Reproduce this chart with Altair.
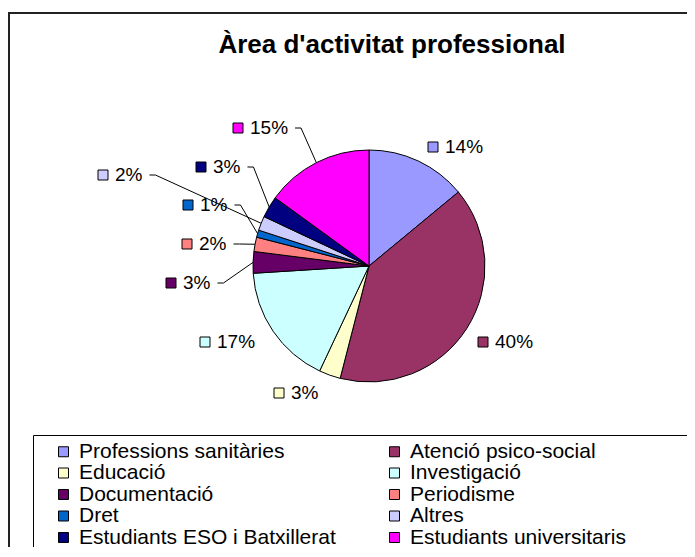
import math
import altair as alt
import pandas as pd

# ---------------- data ----------------
categories = [
    "Professions sanitàries", "Atenció psico-social", "Educació", "Investigació",
    "Documentació", "Periodisme", "Dret", "Altres",
    "Estudiants ESO i Batxillerat", "Estudiants universitaris",
]
values = [14, 40, 3, 17, 3, 2, 1, 2, 3, 15]
colors = ["#9999FF", "#993366", "#FFFFCC", "#CCFFFF", "#660066",
          "#FF8080", "#0066CC", "#CCCCFF", "#000080", "#FF00FF"]
title_text = "Àrea d'activitat professional"

# ---------------- layout (pixels) ----------------
W, H = 679, 539
CX, CY, R = 361, 258, 116
FONT = "Liberation Sans"
LABEL_FS = 19
# label marker offsets from pie centre
label_offsets = [(64, -119), (114, 76), (-90, 127), (-164, 76), (-198, 17),
                 (-182, -22), (-181, -61), (-266, -91), (-168, -99), (-131, -138)]
has_leader = [False, False, False, False, True, True, True, True, True, True]

total = sum(values)
rows, lbl_rows, line_rows = [], [], []
cum = 0.0
def text_w(s, fs):
    return sum((0.889 if ch == "%" else 0.556) for ch in s) * fs

for i, (c, v) in enumerate(zip(categories, values)):
    start = cum / total * 2 * math.pi
    cum += v
    end = cum / total * 2 * math.pi
    mid = (start + end) / 2
    rows.append({"cat": c, "value": v, "idx": i})
    sx = CX + label_offsets[i][0]
    sy = CY + label_offsets[i][1]
    txt = f"{v}%"
    lbl_rows.append({"cat": c, "sx": sx, "sy": sy, "tx": sx + 12, "txt": txt})
    if has_leader[i]:
        x0 = sx + 12 + text_w(txt, LABEL_FS) + 7
        pts = [(x0, sy), (x0 + 6, sy),
               (CX + R * math.sin(mid), CY - R * math.cos(mid))]
        for k, (px, py) in enumerate(pts):
            line_rows.append({"cat": c, "k": k, "px": px, "py": py})

df = pd.DataFrame(rows)
df_lbl = pd.DataFrame(lbl_rows)
df_line = pd.DataFrame(line_rows)
one = pd.DataFrame([{"t": title_text}])

# legend is filled column by column: order the domain so it reads row by row
n_rows = (len(categories) + 1) // 2
leg_order = [categories[r * 2 + col] for col in range(2) for r in range(n_rows)]
leg_colors = [colors[categories.index(c)] for c in leg_order]

xs = alt.Scale(domain=[0, W], range=[0, W])
ys = alt.Scale(domain=[0, H], range=[0, H])

color = alt.Color(
    "cat:N",
    scale=alt.Scale(domain=leg_order, range=leg_colors),
    legend=alt.Legend(
        title=None, orient="none", legendX=45, legendY=433, columns=2,
        columnPadding=48, rowPadding=-0.5, padding=0,
        symbolType="square", symbolSize=100, symbolStrokeColor="black",
        symbolStrokeWidth=1, symbolOpacity=1, labelOffset=5,
        labelFont=FONT, labelFontSize=21, labelColor="black", labelLimit=500,
    ),
)

border = alt.Chart(one).mark_rect(fill="transparent", stroke="#222222", strokeWidth=2).encode(
    x=alt.value(1), x2=alt.value(900), y=alt.value(5), y2=alt.value(900))

legend_box = alt.Chart(one).mark_rect(fill="white", stroke="black", strokeWidth=1).encode(
    x=alt.value(25.5), x2=alt.value(900), y=alt.value(427.5), y2=alt.value(900))

title = alt.Chart(one).mark_text(font=FONT, fontSize=26, fontWeight="bold",
                                 align="center", baseline="middle", color="black").encode(
    text="t:N", x=alt.value(384), y=alt.value(37))

pie = alt.Chart(df).mark_arc(radius=R, stroke="black", strokeWidth=1).encode(
    theta=alt.Theta("value:Q", stack=True),
    order=alt.Order("idx:Q"),
    color=color,
    x=alt.value(CX), y=alt.value(CY),
)

leaders = alt.Chart(df_line).mark_line(color="black", strokeWidth=1).encode(
    x=alt.X("px:Q", scale=xs, axis=None),
    y=alt.Y("py:Q", scale=ys, axis=None),
    detail="cat:N",
    order="k:Q",
)

markers = alt.Chart(df_lbl).mark_square(size=100, stroke="black", strokeWidth=1, opacity=1).encode(
    x=alt.X("sx:Q", scale=xs, axis=None),
    y=alt.Y("sy:Q", scale=ys, axis=None),
    color=color,
)

texts = alt.Chart(df_lbl).mark_text(font=FONT, fontSize=LABEL_FS, align="left",
                                    baseline="middle", color="black").encode(
    x=alt.X("tx:Q", scale=xs, axis=None),
    y=alt.Y("sy:Q", scale=ys, axis=None),
    text="txt:N",
)

chart = alt.layer(border, legend_box, title, pie, leaders, markers, texts).properties(
    width=W, height=H, autosize="none", padding=0, background="white"
).configure_view(stroke=None)

chart.save("out.html", embed_options={"renderer": "svg", "actions": False})
